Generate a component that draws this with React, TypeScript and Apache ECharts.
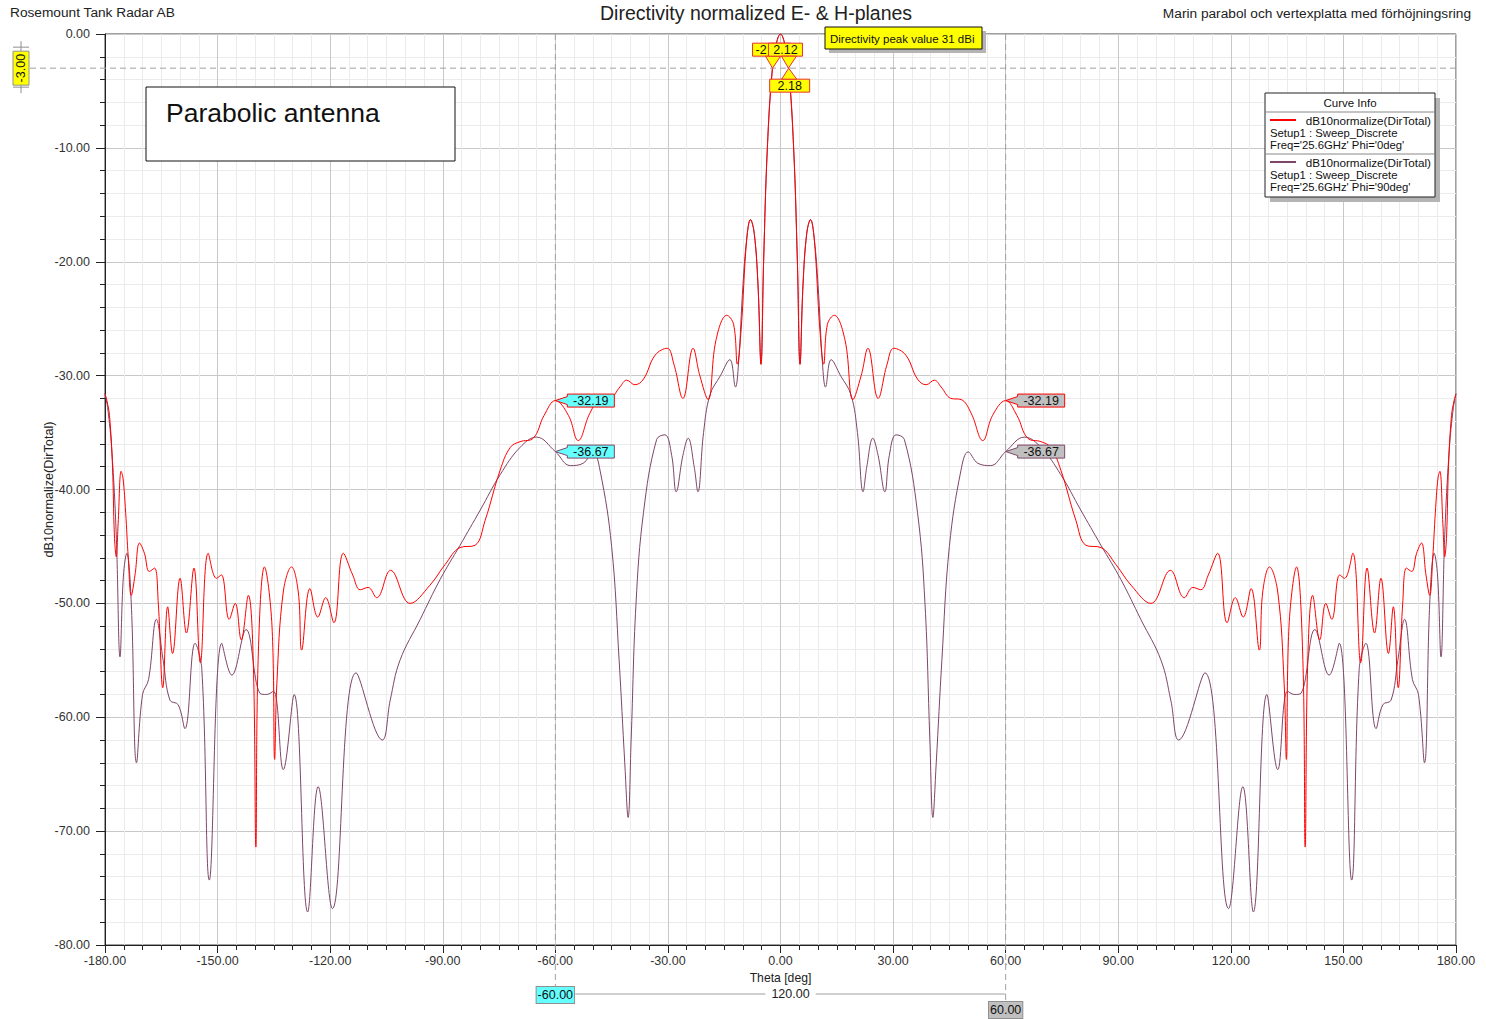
import React, { useEffect, useRef } from "react";
import * as echarts from "echarts";

const FONT = '"Liberation Sans", Arial, sans-serif';

// Theta / dB points (Phi = 0deg, red)
const redCurve: [number, number][] = [
  [-180, -31.6], [-179.5, -32.2], [-178.8, -33.5], [-178, -38], [-177.5, -44], [-177, -45.9], [-176.5, -43],
  [-175.7, -38.4], [-175.2, -39], [-174.5, -42], [-173.8, -46], [-173, -49.3], [-172, -47.5], [-170.8, -44.7],
  [-169.5, -45.6], [-168.2, -47.2], [-166.8, -46.9], [-165.8, -50], [-164.6, -57.4], [-163.3, -50.3], [-162, -54.4],
  [-160, -47.8], [-158.3, -52.6], [-156.3, -46.9], [-154.6, -55.2], [-152.5, -45.6], [-150.3, -47.8], [-149, -47.5],
  [-146.9, -51.4], [-145.3, -50], [-143.7, -53.2], [-141.8, -49.3], [-140.5, -55], [-139.8, -71.4], [-139.2, -55],
  [-137.5, -46.8], [-135.5, -52], [-134.8, -63.7], [-134.2, -57], [-132.5, -49], [-130.3, -46.8], [-128.5, -49],
  [-127.6, -54.1], [-125.4, -48.7], [-123.3, -51.2], [-121.2, -49.5], [-119, -51.7], [-116.5, -45.6], [-114, -47.5],
  [-112, -48.8], [-109.9, -48.6], [-107.6, -49.5], [-103.9, -47.1], [-98.7, -50], [-93.4, -48.4], [-89.4, -46.6],
  [-85.4, -45.1], [-81.4, -44.9], [-78.7, -42.7], [-74.7, -38.3], [-72, -36.3], [-69.4, -35.8], [-65.9, -35.5],
  [-63, -33.5], [-60, -32.19], [-56.5, -33.5], [-53.9, -35.7], [-50.8, -33.3], [-48.1, -32.1], [-45.4, -32],
  [-42.8, -31], [-41, -30.4], [-38.8, -30.8], [-36.5, -30.3], [-33.4, -28.2], [-30.2, -27.6], [-28.4, -29],
  [-26, -32], [-23.3, -27.6], [-21.5, -30], [-19.3, -32.1], [-17.2, -26.9], [-14.3, -24.7], [-12.5, -25.5],
  [-11.5, -29], [-10.5, -26], [-9, -18], [-8, -16.3], [-7, -17.5], [-6, -22], [-5.2, -29], [-4.5, -20],
  [-3.5, -10], [-2.12, -3], [-1, -0.7], [0, 0],
  [1, -0.7], [2.12, -3], [3.5, -10], [4.5, -20], [5.2, -29], [6, -22], [7, -17.5], [8, -16.3], [9, -18],
  [10.5, -26], [11.5, -29], [12.5, -25.5], [14.3, -24.7], [17.2, -26.9], [19.3, -32.1], [21.5, -30], [23.3, -27.6],
  [26, -32], [28.4, -29], [30.2, -27.6], [33.4, -28.2], [36.5, -30.3], [38.8, -30.8], [41, -30.4], [42.8, -31],
  [45.4, -32], [48.1, -32.1], [50.8, -33.3], [53.9, -35.7], [56.5, -33.5], [60, -32.19], [63, -33.5], [65.9, -35.5],
  [69.4, -35.8], [72, -36.3], [74.7, -38.3], [78.7, -42.7], [81.4, -44.9], [85.4, -45.1], [89.4, -46.6],
  [93.4, -48.4], [98.7, -50], [103.9, -47.1], [107.6, -49.5], [109.9, -48.6], [112, -48.8], [114, -47.5],
  [116.5, -45.6], [119, -51.7], [121.2, -49.5], [123.3, -51.2], [125.4, -48.7], [127.6, -54.1], [128.5, -49],
  [130.3, -46.8], [132.5, -49], [134.2, -57], [134.8, -63.7], [135.5, -52], [137.5, -46.8], [139.2, -55],
  [139.8, -71.4], [140.5, -55], [141.8, -49.3], [143.7, -53.2], [145.3, -50], [146.9, -51.4], [149, -47.5],
  [150.3, -47.8], [152.5, -45.6], [154.6, -55.2], [156.3, -46.9], [158.3, -52.6], [160, -47.8], [162, -54.4],
  [163.3, -50.3], [164.6, -57.4], [165.8, -50], [166.8, -46.9], [168.2, -47.2], [169.5, -45.6], [170.8, -44.7],
  [172, -47.5], [173, -49.3], [173.8, -46], [174.5, -42], [175.2, -39], [175.7, -38.4], [176.5, -43], [177, -45.9],
  [177.5, -44], [178, -38], [178.8, -33.5], [179.5, -32.2], [180, -31.6],
];

// Theta / dB points (Phi = 90deg, purple)
const purpleCurve: [number, number][] = [
  [-180, -31.6], [-179.3, -32.8], [-178.2, -36.5], [-177, -44], [-176, -54.7], [-175.1, -47.6], [-174.2, -45.6],
  [-173, -50], [-171.6, -64], [-170, -58], [-168.4, -56.7], [-166.3, -51.4], [-164.5, -55], [-162.7, -58.5],
  [-160.5, -58.9], [-158.7, -61], [-156, -53.5], [-154.2, -55.8], [-152.2, -74.3], [-148.9, -53.5], [-146.2, -56.3],
  [-142.4, -52.3], [-138.7, -57.9], [-136.9, -58], [-135.1, -57.7], [-132.5, -64.6], [-129.6, -58], [-126, -77.1],
  [-123.2, -66.1], [-119.4, -76.8], [-113.1, -56.1], [-106.1, -62], [-104, -58.5], [-101.4, -55], [-96, -51.4],
  [-90.7, -47.9], [-85.4, -44.9], [-80, -41.8], [-74.7, -38.7], [-69.4, -36.3], [-65, -35.4], [-60, -36.67],
  [-56, -37.9], [-52.6, -37.7], [-50, -36.7], [-48.1, -38.3], [-45, -45], [-43, -55], [-41.5, -64], [-40.6, -68.8],
  [-39.8, -62], [-38.5, -50], [-36.5, -42], [-33, -35.6], [-30.8, -35.2], [-29, -37], [-27.8, -40.2], [-26, -37],
  [-24.6, -35.5], [-23, -38], [-22, -40.2], [-20.5, -35], [-18.8, -31.7], [-16, -30], [-13.5, -28.6], [-12, -31],
  [-11.2, -29], [-10, -22], [-9, -18], [-8, -16.3], [-7, -17.5], [-6, -22], [-5.2, -29], [-4.5, -20], [-3.5, -10],
  [-2.18, -3], [-1, -0.7], [0, 0],
  [1, -0.7], [2.18, -3], [3.5, -10], [4.5, -20], [5.2, -29], [6, -22], [7, -17.5], [8, -16.3], [9, -18], [10, -22],
  [11.2, -29], [12, -31], [13.5, -28.6], [16, -30], [18.8, -31.7], [20.5, -35], [22, -40.2], [23, -38], [24.6, -35.5],
  [26, -37], [27.8, -40.2], [29, -37], [30.8, -35.2], [33, -35.6], [36.5, -42], [38.5, -50], [39.8, -62],
  [40.6, -68.8], [41.5, -64], [43, -55], [45, -45], [48.1, -38.3], [50, -36.7], [52.6, -37.7], [56, -37.9],
  [60, -36.67], [65, -35.4], [69.4, -36.3], [74.7, -38.7], [80, -41.8], [85.4, -44.9], [90.7, -47.9], [96, -51.4],
  [101.4, -55], [104, -58.5], [106.1, -62], [113.1, -56.1], [119.4, -76.8], [123.2, -66.1], [126, -77.1],
  [129.6, -58], [132.5, -64.6], [135.1, -57.7], [136.9, -58], [138.7, -57.9], [142.4, -52.3], [146.2, -56.3],
  [148.9, -53.5], [152.2, -74.3], [154.2, -55.8], [156, -53.5], [158.7, -61], [160.5, -58.9], [162.7, -58.5],
  [164.5, -55], [166.3, -51.4], [168.4, -56.7], [170, -58], [171.6, -64], [173, -50], [174.2, -45.6],
  [175.1, -47.6], [176, -54.7], [177, -44], [178.2, -36.5], [179.3, -32.8], [180, -31.6],
];

const seriesNames = ["Phi='0deg'", "Phi='90deg'"];
const legendHeader = "dB10normalize(DirTotal)";
const legendSetup = "Setup1 : Sweep_Discrete";
const legendFreq = ["Freq='25.6GHz' Phi='0deg'", "Freq='25.6GHz' Phi='90deg'"];

const refLevel = -3;
const markerThetas = [-60, 60];
const markerRed = [-32.19, -32.19];
const markerPurple = [-36.67, -36.67];
// beam-width markers: theta, level, visible label (the first one is partly hidden in the reference)
const beamMarks: [number, number, string][] = [
  [-2.12, -3, "-2"],
  [2.12, -3, "2.12"],
  [2.18, -3, "2.18"],
];
const deltaLabel = "120.00";

const RED = "#ff0000";
const PURPLE = "#7e4668";
const CYAN = "#66ffff";
const GRAYBOX = "#c0c0c0";
const YELLOW = "#ffff00";

export default function App() {
  const ref = useRef<HTMLDivElement>(null);

  useEffect(() => {
    document.body.style.margin = "0";
    const chart = echarts.init(ref.current!, null, { renderer: "svg" });
    const option: any = {
      animation: false,
      backgroundColor: "#ffffff",
      textStyle: { fontFamily: FONT },
      title: [
        {
          text: "Directivity normalized E- & H-planes",
          left: 600,
          top: 3,
          padding: 0,
          textStyle: { fontSize: 19.5, fontWeight: "normal", color: "#222", fontFamily: FONT },
        },
        {
          text: "Rosemount Tank Radar AB",
          left: 10,
          top: 5,
          padding: 0,
          textStyle: { fontSize: 13.7, fontWeight: "normal", color: "#222", fontFamily: FONT },
        },
        {
          text: "Marin parabol och vertexplatta med förhöjningsring",
          right: 15,
          top: 6,
          padding: 0,
          textStyle: { fontSize: 13.7, fontWeight: "normal", color: "#222", fontFamily: FONT },
        },
      ],
      grid: {
        left: 105,
        right: 30,
        top: 34,
        bottom: 74,
        show: true,
        borderColor: "#404040",
        borderWidth: 1,
        backgroundColor: "#ffffff",
      },
      xAxis: {
        type: "value",
        min: -180,
        max: 180,
        interval: 30,
        name: "Theta [deg]",
        nameLocation: "middle",
        nameGap: 25,
        nameTextStyle: { fontSize: 12.2, color: "#222", fontFamily: FONT },
        axisLine: { show: true, onZero: false, lineStyle: { color: "#222", width: 1 } },
        axisTick: { show: true, length: 8, lineStyle: { color: "#222" } },
        minorTick: { show: true, splitNumber: 6, length: 5, lineStyle: { color: "#222" } },
        axisLabel: {
          fontSize: 12.5,
          color: "#333",
          margin: 9,
          fontFamily: FONT,
          formatter: (v: number) => v.toFixed(2),
        },
        splitLine: { show: true, lineStyle: { color: "#c8c8c8", width: 1 } },
        minorSplitLine: { show: true, lineStyle: { color: "#ebebeb", width: 1 } },
      },
      yAxis: {
        type: "value",
        min: -80,
        max: 0,
        interval: 10,
        name: "dB10normalize(DirTotal)",
        nameLocation: "middle",
        nameGap: 50,
        nameMoveOverlap: false,
        nameRotate: 90,
        nameTextStyle: { fontSize: 12.7, color: "#222", fontFamily: FONT },
        axisLine: { show: true, onZero: false, lineStyle: { color: "#222", width: 1 } },
        axisTick: { show: true, length: 9, lineStyle: { color: "#222" } },
        minorTick: { show: true, splitNumber: 5, length: 5, lineStyle: { color: "#222" } },
        axisLabel: {
          fontSize: 12.5,
          color: "#333",
          margin: 15,
          fontFamily: FONT,
          formatter: (v: number) => v.toFixed(2),
        },
        splitLine: { show: true, lineStyle: { color: "#c8c8c8", width: 1 } },
        minorSplitLine: { show: true, lineStyle: { color: "#ebebeb", width: 1 } },
      },
      series: [
        {
          name: seriesNames[0],
          type: "line",
          data: redCurve,
          smooth: 0.4,
          symbol: "none",
          lineStyle: { color: RED, width: 1 },
          z: 3,
        },
        {
          name: seriesNames[1],
          type: "line",
          data: purpleCurve,
          smooth: 0.4,
          symbol: "none",
          lineStyle: { color: PURPLE, width: 1 },
          z: 2,
        },
      ],
    };
    chart.setOption(option);

    const p = (x: number, y: number) => chart.convertToPixel({ gridIndex: 0 }, [x, y]) as number[];
    const [, yTop] = p(-180, 0);
    const [xRight, yBottom] = p(180, -80);
    const yRef = p(0, refLevel)[1];
    const g: any[] = [];
    const txt = (x: number, y: number, text: string, size: number, extra: any = {}) => ({
      type: "text",
      x,
      y,
      z: 120,
      style: { text, fill: "#111", font: `${size}px ${FONT}`, align: "left", verticalAlign: "middle", ...extra },
    });

    // -3 dB reference line with its marker
    g.push({
      type: "line",
      z: 60,
      shape: { x1: 30, y1: yRef, x2: xRight, y2: yRef },
      style: { stroke: "#a0a0a0", lineWidth: 1, lineDash: [6, 4] },
    });
    g.push({ type: "line", z: 60, shape: { x1: 13, y1: yRef - 21, x2: 29, y2: yRef - 21 }, style: { stroke: "#909090" } });
    g.push({ type: "line", z: 60, shape: { x1: 21, y1: yRef - 27, x2: 21, y2: yRef - 17 }, style: { stroke: "#909090" } });
    g.push({ type: "line", z: 60, shape: { x1: 13, y1: yRef + 19, x2: 29, y2: yRef + 19 }, style: { stroke: "#909090" } });
    g.push({ type: "line", z: 60, shape: { x1: 21, y1: yRef + 17, x2: 21, y2: yRef + 25 }, style: { stroke: "#909090" } });
    g.push({
      type: "rect",
      z: 61,
      shape: { x: 13, y: yRef - 17, width: 16, height: 34 },
      style: { fill: YELLOW, stroke: "#909090", lineWidth: 1 },
    });
    g.push({
      type: "text",
      x: 21,
      y: yRef,
      rotation: Math.PI / 2,
      z: 62,
      style: { text: refLevel.toFixed(2), fill: "#111", font: `12.5px ${FONT}`, align: "center", verticalAlign: "middle" },
    });

    // vertical dashed marker lines at +/-60 and delta marker
    const [xm0] = p(markerThetas[0], 0);
    const [xm1] = p(markerThetas[1], 0);
    const yDelta = yBottom + 49;
    g.push({
      type: "line",
      z: 60,
      shape: { x1: xm0, y1: yTop, x2: xm0, y2: yDelta - 7 },
      style: { stroke: "#a0a0a0", lineWidth: 1, lineDash: [6, 4] },
    });
    g.push({
      type: "line",
      z: 60,
      shape: { x1: xm1, y1: yTop, x2: xm1, y2: yDelta + 8 },
      style: { stroke: "#a0a0a0", lineWidth: 1, lineDash: [6, 4] },
    });
    g.push({
      type: "line",
      z: 60,
      shape: { x1: xm0 + 20, y1: yDelta, x2: xm1, y2: yDelta },
      style: { stroke: "#a0a0a0", lineWidth: 1 },
    });
    g.push(
      txt((xm0 + 20 + xm1) / 2, yDelta, deltaLabel, 12.5, {
        align: "center",
        backgroundColor: "#ffffff",
        padding: [0, 6],
        fill: "#222",
      })
    );
    g.push(
      txt(xm0, yDelta + 1, markerThetas[0].toFixed(2), 12.5, {
        align: "center",
        backgroundColor: CYAN,
        borderColor: "#909090",
        borderWidth: 1,
        padding: [2, 1, 1, 1],
      })
    );
    g.push(
      txt(xm1, yDelta + 16, markerThetas[1].toFixed(2), 12.5, {
        align: "center",
        backgroundColor: GRAYBOX,
        borderColor: "#909090",
        borderWidth: 1,
        padding: [2, 1, 1, 1],
      })
    );

    // callout markers on the curves
    const callout = (theta: number, db: number, fill: string, stroke: string) => {
      const [px, py] = p(theta, db);
      const bx = px + 12;
      const bw = 47;
      const h = 6.5;
      g.push({
        type: "polygon",
        z: 100,
        shape: {
          points: [
            [px, py],
            [bx, py - 4],
            [bx, py - h],
            [bx + bw, py - h],
            [bx + bw, py + h],
            [bx, py + h],
            [bx, py + 4],
          ],
        },
        style: { fill, stroke, lineWidth: 1 },
      });
      g.push(txt(bx + bw / 2, py + 0.5, db.toFixed(2), 12.5, { align: "center" }));
    };
    callout(markerThetas[0], markerRed[0], CYAN, RED);
    callout(markerThetas[0], markerPurple[0], CYAN, PURPLE);
    callout(markerThetas[1], markerRed[1], GRAYBOX, RED);
    callout(markerThetas[1], markerPurple[1], GRAYBOX, PURPLE);

    // beam-width markers at -3 dB
    const beamBox = (i: number, dx0: number, w: number, up: boolean, leftText: boolean) => {
      const [t, db, label] = beamMarks[i];
      const [px, py] = p(t, db);
      const by = up ? py - 25 : py + 11;
      const bh = 13;
      g.push({
        type: "rect",
        z: 100 + i * 2,
        shape: { x: px + dx0, y: by, width: w, height: bh },
        style: { fill: YELLOW, stroke: "#e83030", lineWidth: 1 },
      });
      g.push({
        ...txt(leftText ? px + dx0 + 3 : px + dx0 + w / 2, by + bh / 2 + 0.5, label, 12.5, {
          align: leftText ? "left" : "center",
        }),
        z: 100 + i * 2,
      });
      const baseY = up ? by + bh : by;
      g.push({
        type: "polygon",
        z: 101 + i * 2,
        shape: { points: [[px - 7, baseY], [px + 8, baseY], [px, py]] },
        style: { fill: YELLOW, stroke: "#e83030", lineWidth: 1 },
      });
    };
    beamBox(0, -20, 38, true, true);
    beamBox(1, -20, 34, true, false);
    beamBox(2, -19, 40, false, false);

    // peak annotation
    g.push({ type: "rect", z: 110, shape: { x: 829, y: 31, width: 157, height: 22 }, style: { fill: "#b4b4b4" } });
    g.push({
      type: "rect",
      z: 111,
      shape: { x: 825, y: 27, width: 157, height: 22 },
      style: { fill: YELLOW, stroke: "#111", lineWidth: 1 },
    });
    g.push({ ...txt(830, 38.5, "Directivity peak value 31 dBi", 11.5), z: 112 });

    // text box
    g.push({
      type: "rect",
      z: 110,
      shape: { x: 146, y: 87, width: 309, height: 74 },
      style: { fill: "#ffffff", stroke: "#111", lineWidth: 1 },
    });
    g.push({ ...txt(166, 113, "Parabolic antenna", 26.5), z: 111 });

    // curve info legend
    const lx = 1265;
    const ly = 93;
    const lw = 170;
    const lh = 104;
    g.push({ type: "rect", z: 110, shape: { x: lx + 5, y: ly + 5, width: lw, height: lh }, style: { fill: "#b4b4b4" } });
    g.push({
      type: "rect",
      z: 111,
      shape: { x: lx, y: ly, width: lw, height: lh },
      style: { fill: "#ffffff", stroke: "#222", lineWidth: 1 },
    });
    g.push({ ...txt(lx + lw / 2, ly + 9.5, "Curve Info", 11.5, { align: "center" }), z: 112 });
    g.push({ type: "line", z: 112, shape: { x1: lx, y1: ly + 19, x2: lx + lw, y2: ly + 19 }, style: { stroke: "#888" } });
    g.push({ type: "line", z: 112, shape: { x1: lx, y1: ly + 61, x2: lx + lw, y2: ly + 61 }, style: { stroke: "#888" } });
    [RED, PURPLE].forEach((c, i) => {
      const y0 = ly + 27 + i * 42;
      g.push({ type: "line", z: 112, shape: { x1: lx + 5, y1: y0, x2: lx + 31, y2: y0 }, style: { stroke: c, lineWidth: 2 } });
      g.push({ ...txt(lx + lw - 4, y0, legendHeader, 11.7, { align: "right" }), z: 112 });
      g.push({ ...txt(lx + 5, y0 + 12.5, legendSetup, 11.3), z: 112 });
      g.push({ ...txt(lx + 5, y0 + 25, legendFreq[i], 11.3), z: 112 });
    });

    chart.setOption({ graphic: g });
    return () => chart.dispose();
  }, []);

  return <div ref={ref} style={{ width: 1486, height: 1019, overflow: "hidden" }} />;
}
